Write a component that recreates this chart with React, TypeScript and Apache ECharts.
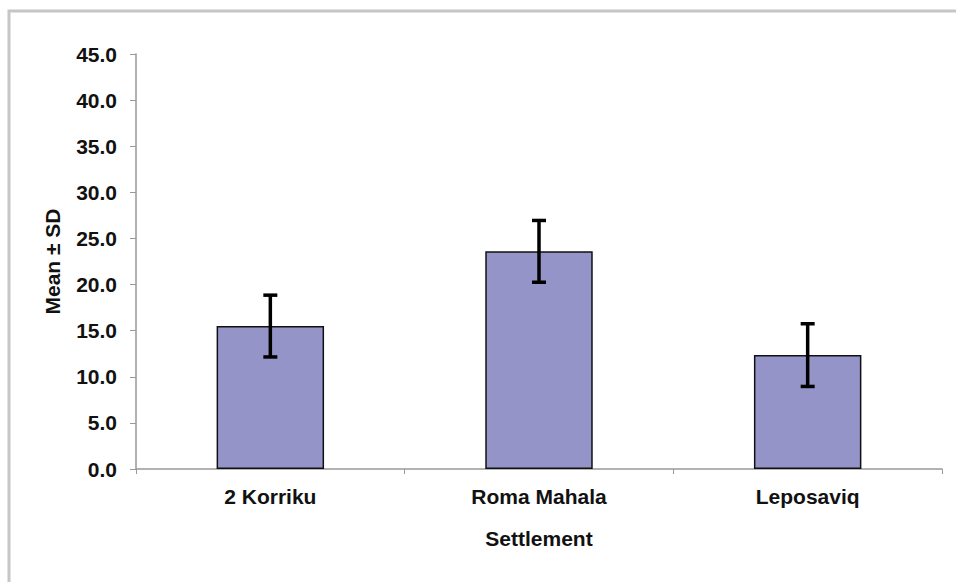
import React, { useEffect, useRef } from "react";
import * as echarts from "echarts";

const categories = ["2 Korriku", "Roma Mahala", "Leposaviq"];
const means = [15.5, 23.6, 12.35];
const sds = [3.35, 3.35, 3.4];
const yTicks = { min: 0, max: 45, interval: 5 };

export default function App() {
  const ref = useRef<HTMLDivElement>(null);
  useEffect(() => {
    document.body.style.margin = "0";
    const chart = echarts.init(ref.current!, null, { renderer: "svg" });
    const font = "'Liberation Sans', Arial, sans-serif";
    const fs = 21;
    const errData = means.map((m, i) => [i, m - sds[i], m + sds[i]]);
    chart.setOption({
      animation: false,
      backgroundColor: "#ffffff",
      graphic: [
        {
          type: "rect",
          shape: { x: 9, y: 11, width: 1000, height: 1000 },
          style: { fill: "none", stroke: "#c6c6c6", lineWidth: 3 },
          z: 0,
        },
      ],
      grid: { left: 136, right: 14, top: 54, bottom: 113 },
      xAxis: {
        type: "category",
        data: categories,
        name: "Settlement",
        nameLocation: "middle",
        nameGap: 59,
        nameTextStyle: { fontFamily: font, fontSize: fs, fontWeight: "bold", color: "#111" },
        axisLine: { lineStyle: { color: "#999999", width: 1.5 } },
        axisTick: { show: true, length: 5, lineStyle: { color: "#999999" } },
        axisLabel: { fontFamily: font, fontSize: fs, fontWeight: "bold", color: "#111", margin: 17 },
      },
      yAxis: {
        type: "value",
        min: yTicks.min,
        max: yTicks.max,
        interval: yTicks.interval,
        name: "Mean ± SD",
        nameLocation: "middle",
        nameGap: 73,
        nameTextStyle: { fontFamily: font, fontSize: fs, fontWeight: "bold", color: "#111" },
        splitLine: { show: false },
        axisLine: { show: true, lineStyle: { color: "#999999", width: 1.5 } },
        axisTick: { show: true, length: 6, lineStyle: { color: "#999999" } },
        axisLabel: {
          fontFamily: font,
          fontSize: fs,
          fontWeight: "bold",
          color: "#111",
          margin: 19,
          formatter: (v: number) => v.toFixed(1),
        },
      },
      series: [
        {
          type: "bar",
          data: means,
          barWidth: "40%",
          itemStyle: { color: "#9494c8", borderColor: "#111111", borderWidth: 1.5 },
          z: 2,
        },
        {
          type: "custom",
          data: errData,
          z: 5,
          renderItem: (params: any, api: any) => {
            const x = api.value(0);
            const lo = api.coord([x, api.value(1)]);
            const hi = api.coord([x, api.value(2)]);
            const hw = 7;
            const style = { stroke: "#000000", lineWidth: 3.5 };
            return {
              type: "group",
              children: [
                { type: "line", shape: { x1: lo[0], y1: lo[1], x2: hi[0], y2: hi[1] }, style },
                { type: "line", shape: { x1: hi[0] - hw, y1: hi[1], x2: hi[0] + hw, y2: hi[1] }, style },
                { type: "line", shape: { x1: lo[0] - hw, y1: lo[1], x2: lo[0] + hw, y2: lo[1] }, style },
              ],
            };
          },
        },
      ],
    });
    return () => chart.dispose();
  }, []);
  return <div ref={ref} style={{ width: 956, height: 582 }} />;
}
